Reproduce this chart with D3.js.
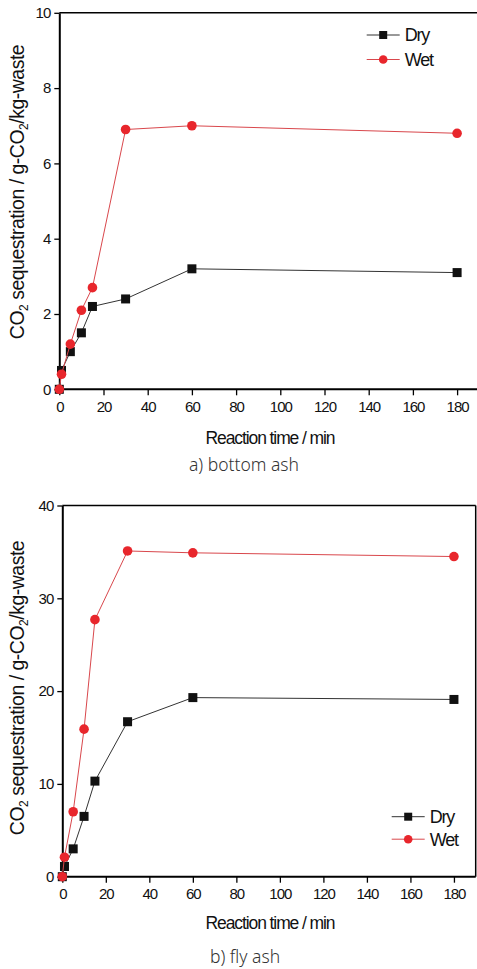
<!DOCTYPE html>
<html><head><meta charset="utf-8">
<script src="https://cdn.jsdelivr.net/npm/d3@7"></script>
<style>
body{margin:0;background:#fff;}
svg{display:block;font-family:"Liberation Sans",Arial,sans-serif;}
</style></head>
<body><svg id="c" width="477" height="969"></svg>
<script>
// ---- data ----
const timesA = [0, 1, 5, 10, 15, 30, 60, 180];
const dryA   = [0, 0.5, 1.0, 1.5, 2.2, 2.4, 3.2, 3.1];
const wetA   = [0, 0.4, 1.2, 2.1, 2.7, 6.9, 7.0, 6.8];
const timesB = [0, 1, 5, 10, 15, 30, 60, 180];
const dryB   = [0, 1.1, 3.0, 6.5, 10.3, 16.7, 19.3, 19.1];
const wetB   = [0, 2.1, 7.0, 15.9, 27.7, 35.1, 34.9, 34.5];
const xTicks = [0, 20, 40, 60, 80, 100, 120, 140, 160, 180];
const yTicksA = [0, 2, 4, 6, 8, 10];
const yTicksB = [0, 10, 20, 30, 40];
const seriesNames = ["Dry", "Wet"];
const captions = ["a) bottom ash", "b) fly ash"];
const xTitle = "Reaction time / min";

const svg = d3.select("#c");
const RED = "#e8262c", REDLINE = "#d9474c";

function drawChart(o) {
  const g = svg.append("g");
  const x = d3.scaleLinear().domain([0, 190]).range([o.left, o.right]);
  const y = d3.scaleLinear().domain([0, o.ymax]).range([o.bottom, o.top]);

  g.append("line").attr("x1", o.left).attr("x2", o.right).attr("y1", o.top).attr("y2", o.top)
    .attr("stroke", "#000").attr("stroke-width", 1.5);
  g.append("line").attr("x1", o.right).attr("x2", o.right).attr("y1", o.top).attr("y2", o.bottom)
    .attr("stroke", "#000").attr("stroke-width", 1.5);

  const xa = g.append("g").attr("transform", `translate(0,${o.bottom})`)
    .call(d3.axisBottom(x).tickValues(xTicks).tickSize(6).tickSizeOuter(0));
  const ya = g.append("g").attr("transform", `translate(${o.left},0)`)
    .call(d3.axisLeft(y).tickValues(o.yTicks).tickSize(5).tickSizeOuter(0));
  [xa, ya].forEach(a => {
    a.select(".domain").attr("stroke-width", 2);
    a.selectAll(".tick line").attr("stroke-width", 1.3);
    a.selectAll("text").attr("font-size", 15).attr("fill", "#111")
      .attr("letter-spacing", "-1px").attr("font-family", "Liberation Sans, Arial, sans-serif");
  });
  xa.selectAll("text").attr("dy", "0.9em");
  ya.selectAll("text").attr("dx", "-1px");
  xa.select(".domain").attr("d", `M${o.left},0H${o.right}`);

  const series = [
    {name: seriesNames[0], vals: o.dry, color: "#111", line: "#333", shape: "square"},
    {name: seriesNames[1], vals: o.wet, color: RED, line: REDLINE, shape: "circle"}
  ];
  const line = d3.line().x(d => x(d[0])).y(d => y(d[1]));
  series.forEach(s => {
    const pts = o.times.map((t, i) => [t, s.vals[i]]);
    g.append("path").attr("d", line(pts)).attr("fill", "none")
      .attr("stroke", s.line).attr("stroke-width", 1);
    pts.forEach(p => {
      if (s.shape === "square") {
        g.append("rect").attr("x", x(p[0]) - 4.5).attr("y", y(p[1]) - 4.5)
          .attr("width", 9).attr("height", 9).attr("fill", s.color);
      } else {
        g.append("circle").attr("cx", x(p[0])).attr("cy", y(p[1])).attr("r", 4.8).attr("fill", s.color);
      }
    });
  });

  series.forEach((s, i) => {
    const ly = o.legY + i * o.legGap;
    g.append("line").attr("x1", o.legX).attr("x2", o.legX + 33).attr("y1", ly).attr("y2", ly)
      .attr("stroke", s.line).attr("stroke-width", 1);
    if (s.shape === "square") {
      g.append("rect").attr("x", o.legX + 16.5 - 4).attr("y", ly - 4).attr("width", 8).attr("height", 8).attr("fill", s.color);
    } else {
      g.append("circle").attr("cx", o.legX + 16.5).attr("cy", ly).attr("r", 4.3).attr("fill", s.color);
    }
    g.append("text").attr("x", o.legX + 38).attr("y", ly).attr("dy", "0.36em")
      .attr("font-size", 18).attr("letter-spacing", "-1.2px").attr("fill", "#111").text(s.name);
  });

  const yt = g.append("text").attr("transform", `translate(${o.ytX},${o.ytC}) rotate(-90)`)
    .attr("text-anchor", "middle").attr("font-size", 19.5).attr("letter-spacing", "-0.5px").attr("fill", "#111");
  yt.append("tspan").text("CO");
  yt.append("tspan").attr("font-size", 12).attr("dy", 4).text("2");
  yt.append("tspan").attr("dy", -4).text(" sequestration / g-CO");
  yt.append("tspan").attr("font-size", 12).attr("dy", 4).text("2");
  yt.append("tspan").attr("dy", -4).text("/kg-waste");

  g.append("text").attr("x", 270).attr("y", o.xtY).attr("text-anchor", "middle")
    .attr("font-size", 17.5).attr("letter-spacing", "-1.1px").attr("fill", "#111").text(xTitle);
  g.append("text").attr("x", o.capX).attr("y", o.capY).attr("text-anchor", "middle")
    .attr("font-family", "Noto Sans, sans-serif").attr("font-weight", 300)
    .attr("font-size", 17.5).attr("fill", "#333").text(o.caption);
}

drawChart({times: timesA, dry: dryA, wet: wetA, ymax: 10, yTicks: yTicksA,
  left: 59.3, right: 479.2, top: 12.8, bottom: 389.3,
  legX: 366.7, legY: 35, legGap: 24.5, ytX: 24, ytC: 192, xtY: 444, capX: 244, capY: 471, caption: captions[0]});
drawChart({times: timesB, dry: dryB, wet: wetB, ymax: 40, yTicks: yTicksB,
  left: 62.3, right: 475.7, top: 505.5, bottom: 876.7,
  legX: 391.7, legY: 816.7, legGap: 22.5, ytX: 24, ytC: 688, xtY: 929, capX: 245, capY: 963, caption: captions[1]});
</script></body></html>
